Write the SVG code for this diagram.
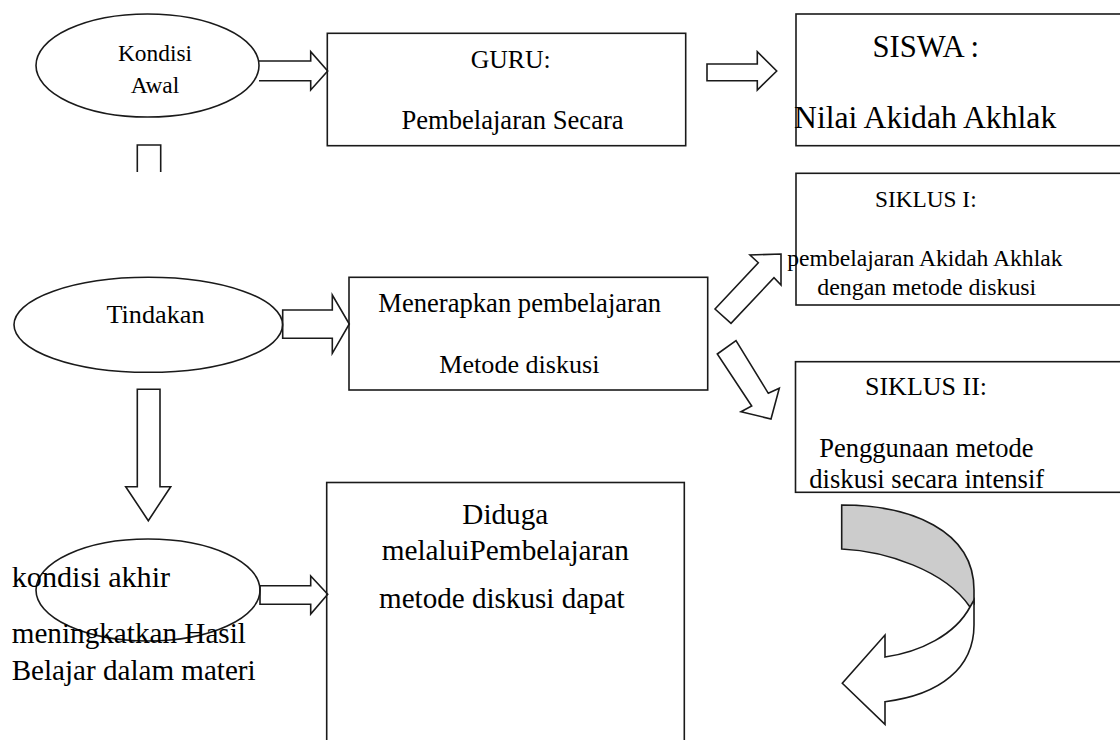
<svg xmlns="http://www.w3.org/2000/svg" width="1120" height="740" viewBox="0 0 1120 740">
<style>
.s{fill:none;stroke:#1a1a1a;stroke-width:1.6}
.w{fill:#fff;stroke:#1a1a1a;stroke-width:1.6;stroke-linejoin:miter}
.g{fill:#cccccc;stroke:#1a1a1a;stroke-width:1.6}
text{font-family:"Liberation Serif","Times New Roman",serif;fill:#000}
.m{text-anchor:middle}
</style>
<rect width="1120" height="740" fill="#fff"/>
<g id="connectors">
<path class="w" d="M259,61 H310.7 V51.7 L327.7,71 L310.7,90 V80.7 H259"/>
<path class="w" d="M707,64 H757.3 V51.7 L776.7,71 L757.3,90 V80.7 H707 Z"/>
<path class="s" d="M137.3,172 V145 H160.7 V172"/>
<path class="w" d="M282.7,310 H332.3 V295 L349.3,324 L332.3,353.3 V338.3 H282.7 Z"/>
<path class="w" d="M137.3,389.3 H160 V486.7 H170.7 L148.3,520.7 L125.7,486.7 H137.3 Z"/>
<path class="w" d="M260,585.7 H310.7 V576 L327.7,594.3 L310.7,614 V604.3 H260 Z"/>
<polygon class="w" points="715,309 758.3,262.7 750,255 781,254 781,285 774,277.7 731,323.3"/>
<polygon class="w" points="717.3,354 736,340.7 768.3,393.3 779.3,388.3 771,419 741,411.7 751.7,406"/>
<path class="g" d="M841.7,505 C910,505 974,530 974,590 L974,604 L970,607 C945,570 885,551 841.7,549 Z"/>
<path class="w" d="M970,607 C955,635 920,652 885,657 L885,635 L842.3,683.3 L885,724.3 L885,701.7 C940,695 974,668 974,625 L974,600 Z"/>
</g>
<g id="kondisi-awal">
<ellipse class="s" cx="147.5" cy="65.5" rx="111.5" ry="51.5"/>
<text class="m" x="155" y="61" font-size="23.4">Kondisi</text>
<text class="m" x="155" y="92.7" font-size="23.4">Awal</text>
</g>
<g id="guru">
<rect class="s" x="327.3" y="33.3" width="358.4" height="112.4"/>
<text class="m" x="510.7" y="68.3" font-size="25.7">GURU:</text>
<text class="m" x="512.5" y="129.3" font-size="26.6">Pembelajaran Secara</text>
</g>
<g id="siswa">
<rect class="s" x="796" y="14" width="340" height="131.7"/>
<text class="m" x="925.8" y="56.7" font-size="30.7">SISWA :</text>
<text x="794" y="128.3" font-size="31.7">Nilai Akidah Akhlak</text>
</g>
<g id="tindakan">
<ellipse class="s" cx="148.3" cy="324.8" rx="134.3" ry="47.5"/>
<text class="m" x="155.5" y="322.7" font-size="26.2">Tindakan</text>
</g>
<g id="menerapkan">
<rect class="s" x="349" y="277.3" width="358.7" height="112.7"/>
<text x="378.3" y="311.7" font-size="26.6">Menerapkan pembelajaran</text>
<text x="439.3" y="373.3" font-size="26.1">Metode diskusi</text>
</g>
<g id="siklus-1">
<rect class="s" x="796" y="173.3" width="340" height="131.7"/>
<text x="875" y="206.7" font-size="23.3">SIKLUS I:</text>
<text x="787.3" y="266" font-size="23.6">pembelajaran Akidah Akhlak</text>
<text x="817.3" y="295" font-size="23.9">dengan metode diskusi</text>
</g>
<g id="siklus-2">
<rect class="s" x="795.5" y="361.7" width="340" height="130.6"/>
<text x="865" y="395" font-size="26">SIKLUS II:</text>
<text x="819.3" y="457.3" font-size="26.5">Penggunaan metode</text>
<text x="809.3" y="488.3" font-size="26.6">diskusi secara intensif</text>
</g>
<g id="kondisi-akhir">
<ellipse class="s" cx="148" cy="590" rx="112" ry="51"/>
<text x="11.7" y="586.7" font-size="30.2">kondisi akhir</text>
<text x="11.7" y="643.3" font-size="29.2">meningkatkan Hasil</text>
<text x="11.7" y="680" font-size="29.1">Belajar dalam materi</text>
</g>
<g id="diduga">
<rect class="s" x="326.7" y="482.5" width="357.6" height="270"/>
<text x="462.3" y="524" font-size="29.2">Diduga</text>
<text x="381.7" y="560" font-size="29.3">melaluiPembelajaran</text>
<text x="379" y="608.3" font-size="29.1">metode diskusi dapat</text>
</g>
</svg>
